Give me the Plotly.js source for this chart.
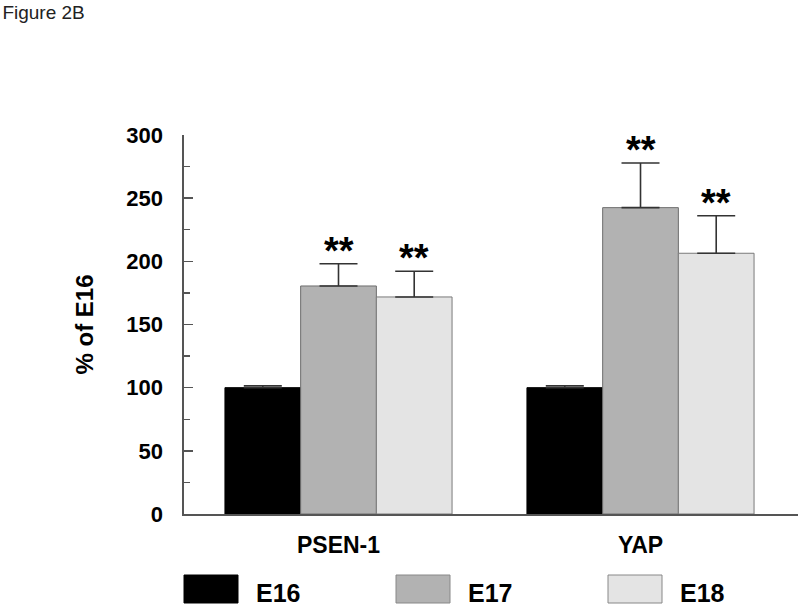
<!DOCTYPE html>
<html>
<head>
<meta charset="utf-8">
<script src="https://cdn.plot.ly/plotly-3.0.1.min.js"></script>
<style>html,body{margin:0;padding:0;background:#fff;}#chart{width:800px;height:609px;}</style>
</head>
<body>
<div id="chart"></div>
<script>
// ---- data ----
const categories = ['PSEN-1', 'YAP'];
const seriesNames = ['E16', 'E17', 'E18'];
const valuesE16 = [100, 100];
const errorsE16 = [1.5, 1.5];
const valuesE17 = [180.5, 242.5];
const errorsE17 = [17.6, 35.3];
const valuesE18 = [171.8, 206.4];
const errorsE18 = [20.3, 29.7];
const sigE16 = ['', ''];
const sigE17 = ['**', '**'];
const sigE18 = ['**', '**'];
const yTickVals = [0, 50, 100, 150, 200, 250, 300];

const seriesValues = [valuesE16, valuesE17, valuesE18];
const seriesErrors = [errorsE16, errorsE17, errorsE18];
const seriesSig = [sigE16, sigE17, sigE18];
const fillColors = ['#000000', '#b2b2b2', '#e4e4e4'];
const lineColors = ['#000000', '#6e6e6e', '#7a7a7a'];

const FONT = 'Arial, "Liberation Sans", sans-serif';
const L = 184, R = 2, T = 135, B = 95, W = 800 - L - R, H = 609 - T - B;
const bargap = 0.248;
const barW = (1 - bargap) / seriesNames.length;

const traces = seriesNames.map((name, s) => ({
  type: 'bar',
  name: name,
  x: categories,
  y: seriesValues[s],
  marker: {color: fillColors[s], line: {color: lineColors[s], width: 1}},
  error_y: {type: 'data', symmetric: false, array: seriesErrors[s], arrayminus: seriesErrors[s].map(() => 0),
            color: '#333333', thickness: 1.6, width: 19},
  showlegend: false,
  hoverinfo: 'skip'
}));

const annotations = [];
seriesNames.forEach((name, s) => {
  categories.forEach((c, i) => {
    if (seriesSig[s][i]) {
      annotations.push({
        x: i + (s - (seriesNames.length - 1) / 2) * barW,
        y: seriesValues[s][i] + seriesErrors[s][i],
        xref: 'x', yref: 'y', text: '<b>' + seriesSig[s][i] + '</b>',
        showarrow: false, yanchor: 'bottom', xanchor: 'center', yshift: -10,
        font: {family: FONT, size: 38, color: '#000'}
      });
    }
  });
});

// legend (drawn as swatches + labels)
const shapes = [];
const legendBoxLeft = [184, 396, 608];
seriesNames.forEach((name, s) => {
  const x0 = (legendBoxLeft[s] - L) / W, x1 = (legendBoxLeft[s] + 54 - L) / W;
  const y0 = (T + H - 603) / H, y1 = (T + H - 575) / H;
  shapes.push({type: 'rect', xref: 'paper', yref: 'paper', x0: x0, x1: x1, y0: y0, y1: y1,
    fillcolor: fillColors[s], line: {color: s === 0 ? '#000' : '#888', width: 1}});
  annotations.push({xref: 'paper', yref: 'paper', x: (legendBoxLeft[s] + 70 - L) / W, y: (T + H - 593) / H,
    xanchor: 'left', yanchor: 'middle', showarrow: false, text: '<b>' + name + '</b>',
    font: {family: FONT, size: 25, color: '#000'}});
});

const layout = {
  width: 800, height: 609,
  margin: {l: L, r: R, t: T, b: B},
  paper_bgcolor: '#fff', plot_bgcolor: '#fff',
  font: {family: FONT, color: '#000'},
  title: {text: 'Figure 2B', x: 0.003, xref: 'container', xanchor: 'left', y: 1 - 12 / 609, yref: 'container', yanchor: 'middle',
          font: {family: FONT, size: 19, color: '#222'}},
  barmode: 'group', bargap: bargap, bargroupgap: 0,
  xaxis: {
    type: 'category', range: [-0.5116, 1.5215], showgrid: false, zeroline: false,
    showline: true, linecolor: '#555', linewidth: 1.6, ticks: '', ticklabelstandoff: 10,
    tickfont: {family: FONT, size: 23, color: '#000', weight: 'bold'}, fixedrange: true
  },
  yaxis: {
    range: [0, 300], tickvals: yTickVals, showgrid: false, zeroline: false,
    showline: true, linecolor: '#555', linewidth: 1.6,
    ticks: 'inside', ticklen: 9, tickwidth: 1.5, tickcolor: '#555', ticklabelstandoff: 15,
    minor: {dtick: 25, ticks: 'inside', ticklen: 6, tickwidth: 1.3, tickcolor: '#555', showgrid: false},
    tickfont: {family: FONT, size: 22, color: '#000', weight: 'bold'},
    title: {text: '<b>% of E16</b>', standoff: 26, font: {family: FONT, size: 24, color: '#000'}},
    automargin: false, fixedrange: true
  },
  shapes: shapes,
  annotations: annotations,
  showlegend: false
};

Plotly.newPlot('chart', traces, layout, {displayModeBar: false, staticPlot: true});
</script>
</body>
</html>
